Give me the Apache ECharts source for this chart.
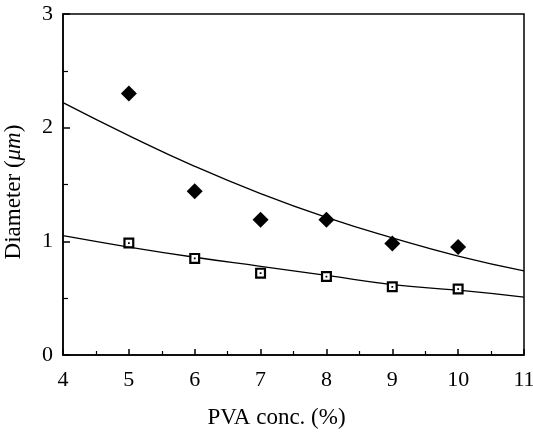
<!DOCTYPE html>
<html><head><meta charset="utf-8">
<script src="https://cdn.jsdelivr.net/npm/echarts@6/dist/echarts.min.js"></script>
<style>html,body{margin:0;padding:0;background:#fff}#c{width:533px;height:434px}</style>
</head><body><div id="c"></div>
<script>
var pvaConc = [5, 6, 7, 8, 9, 10];
var diamondDiameter = [2.30, 1.44, 1.19, 1.19, 0.98, 0.95];
var squareDiameter = [0.985, 0.85, 0.72, 0.69, 0.60, 0.58];
var fitX = [4, 5, 6, 7, 8, 9, 10, 11];
var upperFit = [2.22, 1.93, 1.66, 1.42, 1.21, 1.03, 0.87, 0.74];
var lowerFit = [1.05, 0.95, 0.86, 0.78, 0.70, 0.62, 0.57, 0.51];

function pairs(xs, ys) { return xs.map(function (x, i) { return [x, ys[i]]; }); }

var font = '"Liberation Serif", "DejaVu Serif", serif';
var chart = echarts.init(document.getElementById('c'), null, {renderer: 'canvas'});
chart.setOption({
  animation: false,
  backgroundColor: '#fff',
  grid: {left: 63, right: 9, top: 14, bottom: 79, show: true, borderColor: '#000', borderWidth: 1.5,
    containLabel: false, outerBoundsMode: 'none'},
  xAxis: {
    type: 'value', min: 4, max: 11, interval: 1,
    name: 'PVA conc. (%)', nameLocation: 'middle', nameGap: 51,
    nameTextStyle: {fontFamily: font, fontSize: 23, color: '#000', padding: [0, 34, 0, 0]},
    axisLine: {lineStyle: {color: '#000', width: 1.5}},
    axisTick: {inside: true, length: 6, lineStyle: {color: '#000', width: 1.5}},
    minorTick: {show: true, splitNumber: 2, length: 4, lineStyle: {color: '#000', width: 1.2}},
    axisLabel: {fontFamily: font, fontSize: 22, color: '#000', margin: 14},
    splitLine: {show: false}
  },
  yAxis: {
    type: 'value', min: 0, max: 3, interval: 1,
    name: '{n|Diameter (}{i|μm}{n|)}', nameLocation: 'middle', nameGap: 38,
    nameTextStyle: {fontFamily: font, fontSize: 23, color: '#000', padding: [0, 15, 0, 0],
      rich: {n: {fontFamily: font, fontSize: 23, color: '#000'}, i: {fontFamily: font, fontSize: 23, fontStyle: 'italic', color: '#000'}}},
    axisLine: {lineStyle: {color: '#000', width: 1.5}},
    axisTick: {inside: true, length: 7, lineStyle: {color: '#000', width: 1.5}},
    minorTick: {show: true, splitNumber: 2, length: 5, lineStyle: {color: '#000', width: 1.2}},
    axisLabel: {fontFamily: font, fontSize: 22, color: '#000', margin: 10},
    splitLine: {show: false}
  },
  series: [
    {type: 'line', data: pairs(fitX, upperFit), smooth: true, symbol: 'none',
      lineStyle: {color: '#000', width: 1.3}, z: 2},
    {type: 'line', data: pairs(fitX, lowerFit), smooth: true, symbol: 'none',
      lineStyle: {color: '#000', width: 1.3}, z: 2},
    {type: 'scatter', data: pairs(pvaConc, diamondDiameter), symbol: 'diamond', symbolSize: [16, 16],
      itemStyle: {color: '#000', opacity: 1}, z: 3},
    {type: 'scatter', data: pairs(pvaConc, squareDiameter),
      symbol: 'path://M0,0H10V10H0Z M2,2V8H8V2Z M4.2,4.2H5.8V5.8H4.2Z', symbolSize: 11,
      itemStyle: {color: '#000', opacity: 1}, z: 3},
    {type: 'scatter', data: pairs(pvaConc, squareDiameter), symbol: 'rect', symbolSize: 7,
      itemStyle: {color: '#fff', opacity: 1}, z: 2.5, silent: true}
  ]
});
</script></body></html>
